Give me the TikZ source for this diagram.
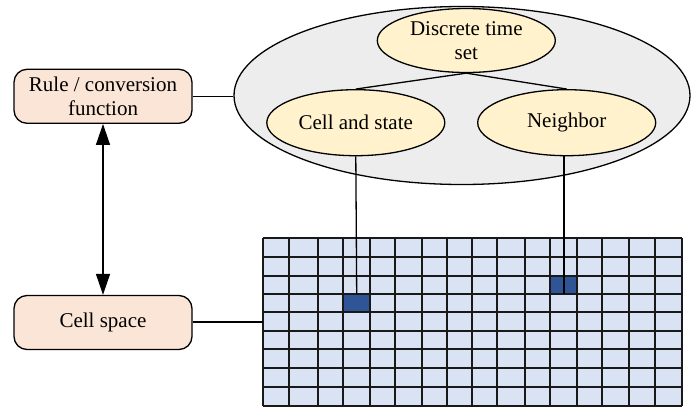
\documentclass[tikz,border=0pt]{standalone}
\usepackage{fontspec}
\setmainfont{Liberation Serif}
\usetikzlibrary{shapes.geometric,arrows.meta}
\definecolor{bigfill}{HTML}{EDEDED}
\definecolor{ellfill}{HTML}{FFF2CC}
\definecolor{boxfill}{HTML}{FBE5D6}
\definecolor{cellfill}{HTML}{DAE3F3}
\definecolor{darkcell}{HTML}{2F5597}
\tikzset{
  txt/.style={font=\rmfamily\fontsize{21}{24.5}\selectfont, align=center, inner sep=0pt},
  bigell/.style={ellipse, draw=black, line width=1.3pt, fill=bigfill, minimum width=456pt, minimum height=178pt, inner sep=0pt},
  smallell/.style={ellipse, draw=black, line width=1.3pt, fill=ellfill, minimum width=178pt, minimum height=66pt, txt},
  rbox/.style={rectangle, rounded corners=13pt, draw=black, line width=1.3pt, fill=boxfill, minimum width=178pt, minimum height=54pt, txt},
  conn/.style={line width=1.3pt, draw=black},
  gridline/.style={line width=1.8pt, draw=black!90},
}
\begin{document}
\begin{tikzpicture}[x=1pt,y=-1pt]
\useasboundingbox (0,0) rectangle (691,410);
% big ellipse
\node[bigell] (big) at (462,95.5) {};
\node[smallell, minimum height=64pt] (time) at (466.3,40.5) {Discrete time\\set};
\node[smallell] (cell) at (355.8,122.7) {Cell and state};
\node[smallell] (nb) at (566.7,122.7) {Neighbor};
\draw[conn] (time.south) -- (cell.north);
\draw[conn] (time.south) -- (nb.north);
% boxes
\node[rbox] (rule) at (103,96.3) {Rule / conversion\\function};
\node[rbox] (space) at (103,322.5) {Cell space};
\draw[conn, {Triangle[length=21pt,width=14pt]}-{Triangle[length=21pt,width=14pt]}] (rule.south) -- (space.north);
\draw[conn] (rule.east) -- (big.west |- rule.east);
% grid
\def\xs{263.3,289,317.7,343,370,395,422.3,447.3,472.3,497.3,525,550,577.3,602.3,629.3,655,682.3}
\def\ys{238.3,256.7,275.7,294,312.3,331,349.3,368.3,386.7,405.7}
\fill[cellfill] (263.3,238.3) rectangle (682.3,405.7);
\fill[darkcell] (343,294) rectangle (370,312.3);
\fill[darkcell] (550,275.7) rectangle (577.3,294);
\foreach \x in \xs { \draw[gridline] (\x,238.3) -- (\x,405.7); }
\foreach \y in \ys { \draw[gridline] (263.3,\y) -- (682.3,\y); }
\coordinate (gridW) at (263.3,322);
\coordinate (cellT) at (356.7,294);
\coordinate (nbT) at (564,294);
\draw[conn] (space.east |- gridW) -- (gridW);
\draw[conn] (cell.south) -- (cellT);
\draw[conn] (nb.south -| nbT) -- (nbT);
\end{tikzpicture}
\end{document}
